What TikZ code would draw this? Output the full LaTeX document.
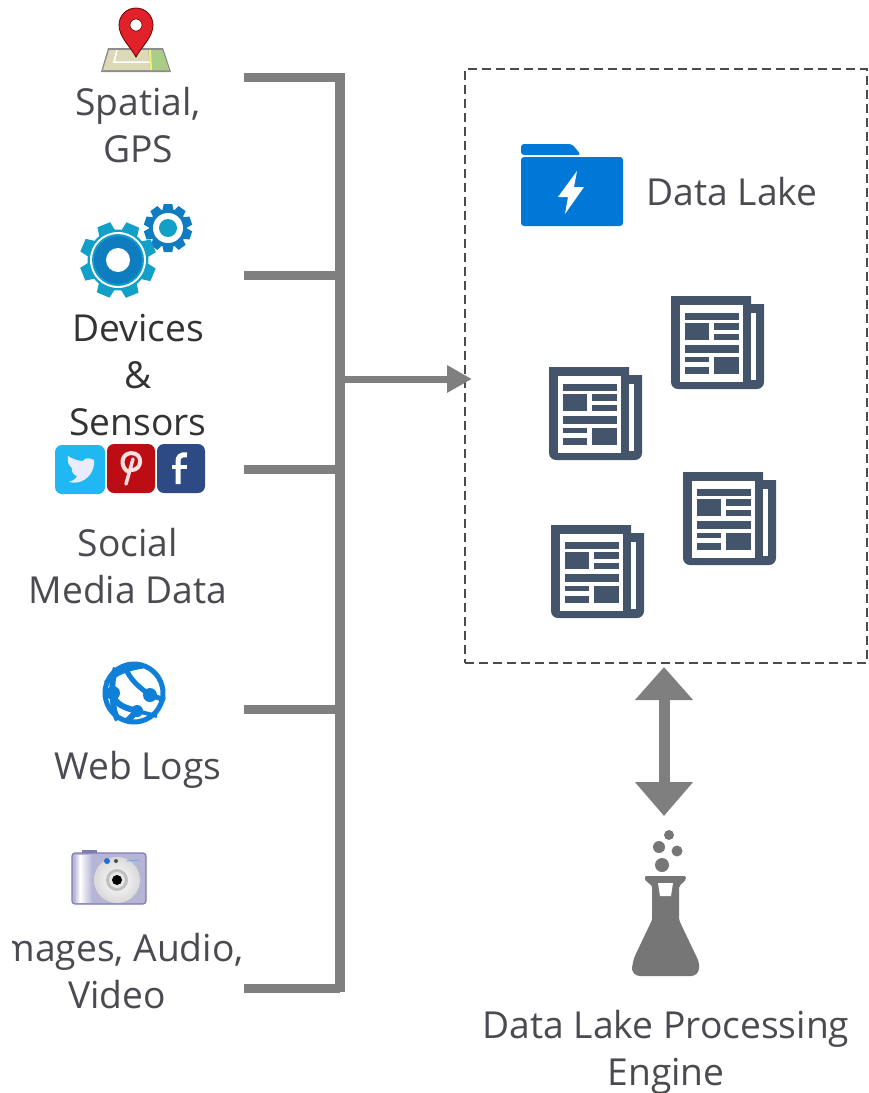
\documentclass[tikz,border=0pt]{standalone}
\usepackage{fontspec}
\setmainfont{Open Sans}
\usepackage{tikz}
\usetikzlibrary{arrows.meta}

\definecolor{bargray}{HTML}{7F7F7F}
\definecolor{darkgray}{HTML}{4A4A50}
\definecolor{azureblue}{HTML}{0078D7}
\definecolor{paperblue}{HTML}{44546A}
\definecolor{gearcyan}{HTML}{12A0C8}
\definecolor{gearblue}{HTML}{0F7CC0}
\definecolor{flaskgray}{HTML}{767676}
\definecolor{mapland}{HTML}{DDD8B8}
\definecolor{mapgreen}{HTML}{A9CC86}
\definecolor{maproad}{HTML}{F3EF80}
\definecolor{pinred}{HTML}{E2222A}
\definecolor{birdblue}{HTML}{1FB8F2}
\definecolor{pinterestred}{HTML}{BC0D14}
\definecolor{facebookblue}{HTML}{2D4A85}
\definecolor{globeblue}{HTML}{0F7FD8}
\definecolor{cameralilac}{HTML}{B7B5D6}
\definecolor{cameraedge}{HTML}{7D7CB0}
\definecolor{camerabutton}{HTML}{1F6FD0}

\tikzset{
  labeltext/.style={align=center, text=darkgray, font=\fontsize{37.2}{47}\selectfont},
  bar/.style={bargray, line width=9pt},
  papericon/.pic={
    \fill [paperblue] (0,0) -- (80,0) -- (80,8) -- (93,8) [rounded corners=7pt] -- (93,93) -- (0,93) [sharp corners] -- cycle;
    \fill [white] (9,9) rectangle (72,86);
    \fill [white] (80,17) rectangle (85,84);
    \fill [paperblue] (14,17) rectangle (68,24);
    \fill [paperblue] (14,27) rectangle (38,44);
    \fill [paperblue] (43,27) rectangle (68,34);
    \fill [paperblue] (43,38) rectangle (68,44);
    \fill [paperblue] (14,49) rectangle (68,57);
    \fill [paperblue] (14,61) rectangle (38,66);
    \fill [paperblue] (14,71) rectangle (38,78);
    \fill [paperblue] (43,61) rectangle (68,78);
  }
}

\newcommand{\cogwheel}[5]{% centre, outer radius, teeth, colour, turn
  \fill [#4] (#1) circle [radius=#2*0.8];
  \foreach \a in {1,...,#3}
    \fill [#4, rotate around={\a*360/#3+#5:(#1)}] ([xshift=-#2*0.23pt]#1) ++(0,-#2*0.72) -- ++(#2*0.46,0) -- ++(-#2*0.05,-#2*0.28) -- ++(-#2*0.36,0) -- cycle;
}

\begin{document}
\begin{tikzpicture}[x=1pt, y=-1pt, >=Latex]
  \useasboundingbox (0,0) rectangle (869,1093);

  % sources
  \node (spatial) at (138,125) [labeltext] {Spatial,\\GPS};
  \node (devices) at (138,375) [labeltext, text=black!80] {Devices\\\&\\Sensors};
  \node (social) at (128,566) [labeltext] {Social\\Media Data};
  \node (weblogs) at (138,770) [labeltext] {Web Logs};
  \node (images) at (117,971) [labeltext] {Images, Audio,\\Video};
  \fill [white] (0,925) rectangle (12,970);

  % map pin
  \fill [black!45] (101,72) -- (108,48) -- (163,48) -- (171,72) -- cycle;
  \fill [mapland] (103,70) -- (109,50) -- (162,50) -- (169,70) -- cycle;
  \fill [mapgreen] (148,50) -- (162,50) -- (169,70) -- (150,70) -- cycle;
  \draw [white, line width=1.5pt] (117,50) -- (114,62) -- (150,62);
  \draw [maproad, line width=2pt] (150,50) -- (151,70);
  \fill [pinred, draw=black!60!red, line width=.8pt] (136,57) .. controls (130,46) and (119,37) .. (119,25) arc [start angle=180, end angle=360, radius=17] .. controls (153,37) and (142,46) .. (136,57) -- cycle;
  \fill [white, draw=black!60!red, line width=.6pt] (136,25) circle [radius=6];

  % gears
  \cogwheel{168,228}{24}{10}{gearblue}{0}
  \fill [white] (168,228) circle [radius=15];
  \fill [gearcyan] (168,228) circle [radius=9];
  \cogwheel{118,260}{38}{8}{gearcyan}{22}
  \fill [white] (118,260) circle [radius=28];
  \fill [gearcyan] (118,260) circle [radius=26];
  \fill [gearblue] (118,260) circle [radius=24];
  \fill [white] (118,260) circle [radius=12];

  % social media
  \fill [birdblue, rounded corners=7pt] (55,445) rectangle (105,494);
  \fill [white!92!blue] (94,460) .. controls (90,458) and (85,457) .. (83,461) .. controls (78,461) and (73,459) .. (68,456) .. controls (67,462) and (69,466) .. (72,468) .. controls (71,472) and (74,475) .. (77,476) .. controls (75,480) and (72,481) .. (69,482) .. controls (80,485) and (92,478) .. (94,465) -- cycle;
  \fill [pinterestred, rounded corners=7pt] (107,444) rectangle (155,493);
  \draw [white!88!red, line width=4pt, line cap=round] (127,471) .. controls (121,467) and (120,454) .. (131,453) .. controls (144,453) and (142,470) .. (132,470);
  \draw [white!88!red, line width=3.5pt, line cap=round] (133,459) -- (126,484);
  \fill [facebookblue, rounded corners=7pt] (157,444) rectangle (205,493);
  \draw [white, line width=5pt] (187,455) .. controls (180,454) and (178,457) .. (178,462) -- (178,484);
  \draw [white, line width=4.5pt] (172,467) -- (187,467);

  % globe
  \draw [globeblue, line width=5pt] (134,693) circle [radius=29];
  \draw [globeblue, line width=5pt] (125,667) .. controls (130,680) and (140,688) .. (150,695) -- (165,700);
  \draw [globeblue, line width=5pt] (106,683) .. controls (115,672) and (130,668) .. (143,666);
  \draw [globeblue, line width=6pt] (116,668) .. controls (112,678) and (112,686) .. (113,693) .. controls (114,705) and (126,708) .. (137,711) -- (126,722);
  \draw [globeblue, line width=6pt] (105,693) -- (113,693) .. controls (113,702) and (113,712) .. (118,720);
  \draw [globeblue, line width=4pt] (137,711) -- (157,716);
  \fill [globeblue] (150,695) circle [radius=7];
  \fill [globeblue] (137,711) circle [radius=6];
  \fill [globeblue] (113,693) circle [radius=7];

  % camera
  \fill [cameraedge] (82,854) rectangle (97,850);
  \fill [cameralilac, draw=cameraedge, line width=1.2pt, rounded corners=3pt] (72,853) rectangle (146,904);
  \shade [left color=cameralilac, right color=white] (74,855) rectangle (80,902);
  \shade [left color=white, right color=cameralilac] (80,855) rectangle (92,902);
  \shade [inner color=white, outer color=black!15] (117,880) circle [radius=23];
  \fill [black!25] (117,880) circle [radius=11];
  \fill [white!90!black] (117,880) circle [radius=8];
  \fill [black] (117,880) circle [radius=5];
  \fill [camerabutton] (107,861) circle [radius=3];
  \fill [black!70] (116,861) circle [radius=2];
  \draw [camerabutton!60, line width=1pt] (127,861) -- (140,860);

  % folder
  \fill [azureblue, rounded corners=3pt] (521,155) -- (521,144) -- (572,144) -- (581,155) -- cycle;
  \fill [azureblue, rounded corners=3pt] (521,157) rectangle (623,226);
  \fill [white] (577,171) -- (558,197) -- (568,197) -- (565,214) -- (584,187) -- (574,187) -- cycle;
  \node (lake) at (732,192) [labeltext] {Data Lake};

  % documents
  \pic at (671,296) {papericon};
  \pic at (549,367) {papericon};
  \pic at (683,472) {papericon};
  \pic at (551,525) {papericon};

  \node (lakebox) at (666,366) [draw=darkgray, line width=1.2pt, dash pattern=on 9pt off 5pt, minimum width=402pt, minimum height=594pt] {};

  % bracket
  \coordinate (stemtop) at (340,73);
  \coordinate (stembot) at (340,992);
  \draw [bargray, line width=10pt] (stemtop) -- (stembot);
  \draw [bar] (244,77) coordinate (barA) -- (barA -| stemtop);
  \draw [bar] (244,275) coordinate (barB) -- (barB -| stemtop);
  \draw [bar] (244,469) coordinate (barC) -- (barC -| stemtop);
  \draw [bar] (244,709) coordinate (barD) -- (barD -| stemtop);
  \draw [bar] (244,988) coordinate (barE) -- (barE -| stemtop);

  \coordinate (stemmid) at (345,379);
  \coordinate (lakein) at (472,379);
  \draw [bargray, line width=7pt, -{Triangle[width=26pt,length=25pt]}] (stemmid) -- (lakein);

  % flask
  \fill [flaskgray] (669,835) circle [radius=5];
  \fill [flaskgray] (659,847) circle [radius=6];
  \fill [flaskgray] (677,851) circle [radius=5.5];
  \fill [flaskgray] (662,865) circle [radius=7];
  \fill [flaskgray, rounded corners=2pt] (645,876) -- (686,876) -- (686,880) -- (679,886) -- (679,920) -- (699,962) [rounded corners=8pt] -- (699,976) -- (632,976) -- (632,962) [rounded corners=1pt] -- (652,920) -- (652,886) -- (645,880) -- cycle;
  \fill [white] (658,883) -- (673,883) -- (671,896) -- (660,896) -- cycle;
  \coordinate (engineup) at (664,667);
  \coordinate (enginedown) at (664,816);
  \draw [bargray, line width=11pt, {Triangle[width=56pt,length=33pt]}-{Triangle[width=56pt,length=34pt]}] (engineup) -- (enginedown);

  \node (engine) at (666,1052) [labeltext] {Data Lake Processing\\Engine};
\end{tikzpicture}
\end{document}
